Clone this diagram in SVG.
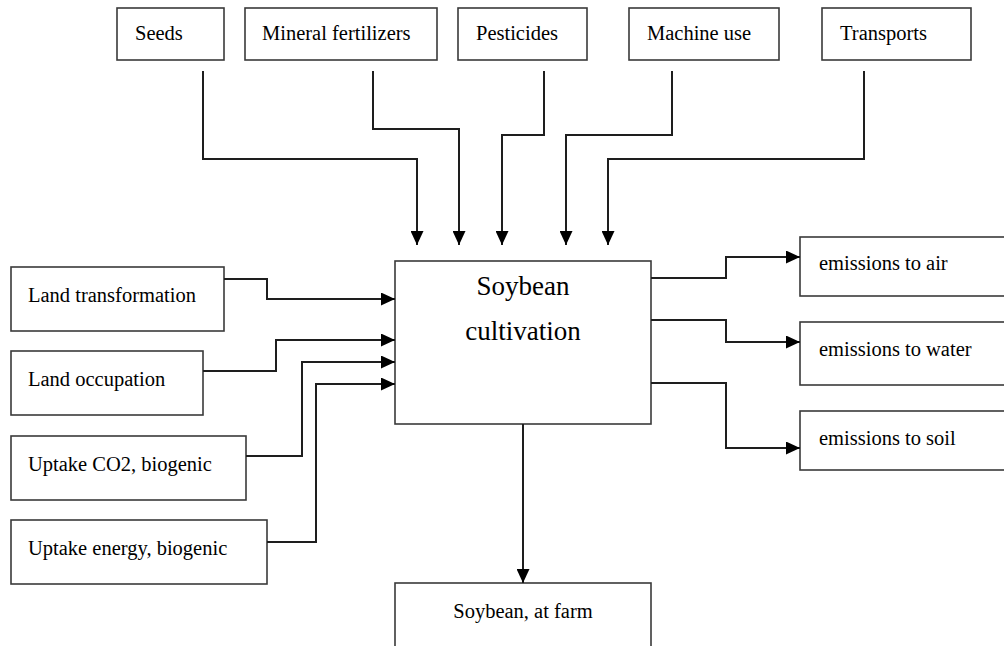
<svg xmlns="http://www.w3.org/2000/svg" width="1004" height="646" viewBox="0 0 1004 646">
  <style>
    .box { fill: #ffffff; stroke: #3a3a3a; stroke-width: 1.6; }
    .lbl { font-family: "Liberation Serif", "Times New Roman", serif; font-size: 20.5px; fill: #000000; }
    .big { font-family: "Liberation Serif", "Times New Roman", serif; font-size: 27px; fill: #000000; text-anchor: middle; }
    .mid { text-anchor: middle; }
    .wire { fill: none; stroke: #1e1e1e; stroke-width: 2; marker-end: url(#arrow); }
    .wire-plain { fill: none; stroke: #1e1e1e; stroke-width: 2; }
  </style>
  <defs>
    <marker id="arrow" markerUnits="userSpaceOnUse" markerWidth="14" markerHeight="13" refX="14" refY="6.5" orient="auto">
      <path d="M0,0 L14,6.5 L0,13 Z" fill="#000000"/>
    </marker>
  </defs>
  <rect width="1004" height="646" fill="#ffffff"/>

  <!-- input nodes along the top -->
  <g id="node-seeds">
    <rect class="box" x="117" y="8" width="107" height="52"/>
    <text class="lbl" x="135" y="40">Seeds</text>
  </g>
  <g id="node-mineral-fertilizers">
    <rect class="box" x="245" y="8" width="192" height="52"/>
    <text class="lbl" x="262" y="40">Mineral fertilizers</text>
  </g>
  <g id="node-pesticides">
    <rect class="box" x="458" y="8" width="129" height="52"/>
    <text class="lbl" x="476" y="40">Pesticides</text>
  </g>
  <g id="node-machine-use">
    <rect class="box" x="629" y="8" width="150" height="52"/>
    <text class="lbl" x="647" y="40">Machine use</text>
  </g>
  <g id="node-transports">
    <rect class="box" x="822" y="8" width="149" height="52"/>
    <text class="lbl" x="840" y="40">Transports</text>
  </g>

  <!-- resource inputs on the left -->
  <g id="node-land-transformation">
    <rect class="box" x="11" y="267" width="213" height="64"/>
    <text class="lbl" x="28" y="302">Land transformation</text>
  </g>
  <g id="node-land-occupation">
    <rect class="box" x="11" y="351" width="192" height="64"/>
    <text class="lbl" x="28" y="386">Land occupation</text>
  </g>
  <g id="node-uptake-co2">
    <rect class="box" x="11" y="436" width="235" height="64"/>
    <text class="lbl" x="28" y="471">Uptake CO2, biogenic</text>
  </g>
  <g id="node-uptake-energy">
    <rect class="box" x="11" y="520" width="256" height="64"/>
    <text class="lbl" x="28" y="555">Uptake energy, biogenic</text>
  </g>

  <!-- central process -->
  <g id="node-soybean-cultivation">
    <rect class="box" x="395" y="261" width="256" height="163"/>
    <text class="big" x="523" y="295">Soybean</text>
    <text class="big" x="523" y="340">cultivation</text>
  </g>

  <!-- emissions on the right -->
  <g id="node-emissions-air">
    <rect class="box" x="800" y="237" width="220" height="59"/>
    <text class="lbl" x="819" y="270">emissions to air</text>
  </g>
  <g id="node-emissions-water">
    <rect class="box" x="800" y="322" width="220" height="63"/>
    <text class="lbl" x="819" y="356">emissions to water</text>
  </g>
  <g id="node-emissions-soil">
    <rect class="box" x="800" y="411" width="220" height="59"/>
    <text class="lbl" x="819" y="445">emissions to soil</text>
  </g>

  <!-- product output -->
  <g id="node-soybean-at-farm">
    <rect class="box" x="395" y="583" width="256" height="80"/>
    <text class="lbl mid" x="523" y="618">Soybean, at farm</text>
  </g>

  <!-- connectors -->
  <g id="connectors">
    <path class="wire" d="M203,71 V159 H417 V245"/>
    <path class="wire" d="M373,71 V129 H459 V245"/>
    <path class="wire" d="M544,71 V135 H502 V245"/>
    <path class="wire" d="M672,71 V135 H566 V245"/>
    <path class="wire" d="M864,71 V159 H608 V245"/>

    <path class="wire" d="M224,279 H267 V299 H395"/>
    <path class="wire" d="M203,371 H276 V340 H395"/>
    <path class="wire" d="M246,456 H302 V362 H395"/>
    <path class="wire" d="M267,542 H316 V384 H395"/>

    <path class="wire" d="M651,278 H726 V257 H800"/>
    <path class="wire" d="M651,320 H726 V342 H800"/>
    <path class="wire" d="M651,383 H726 V448 H800"/>

    <path class="wire" d="M523,424 V583"/>
  </g>
</svg>
